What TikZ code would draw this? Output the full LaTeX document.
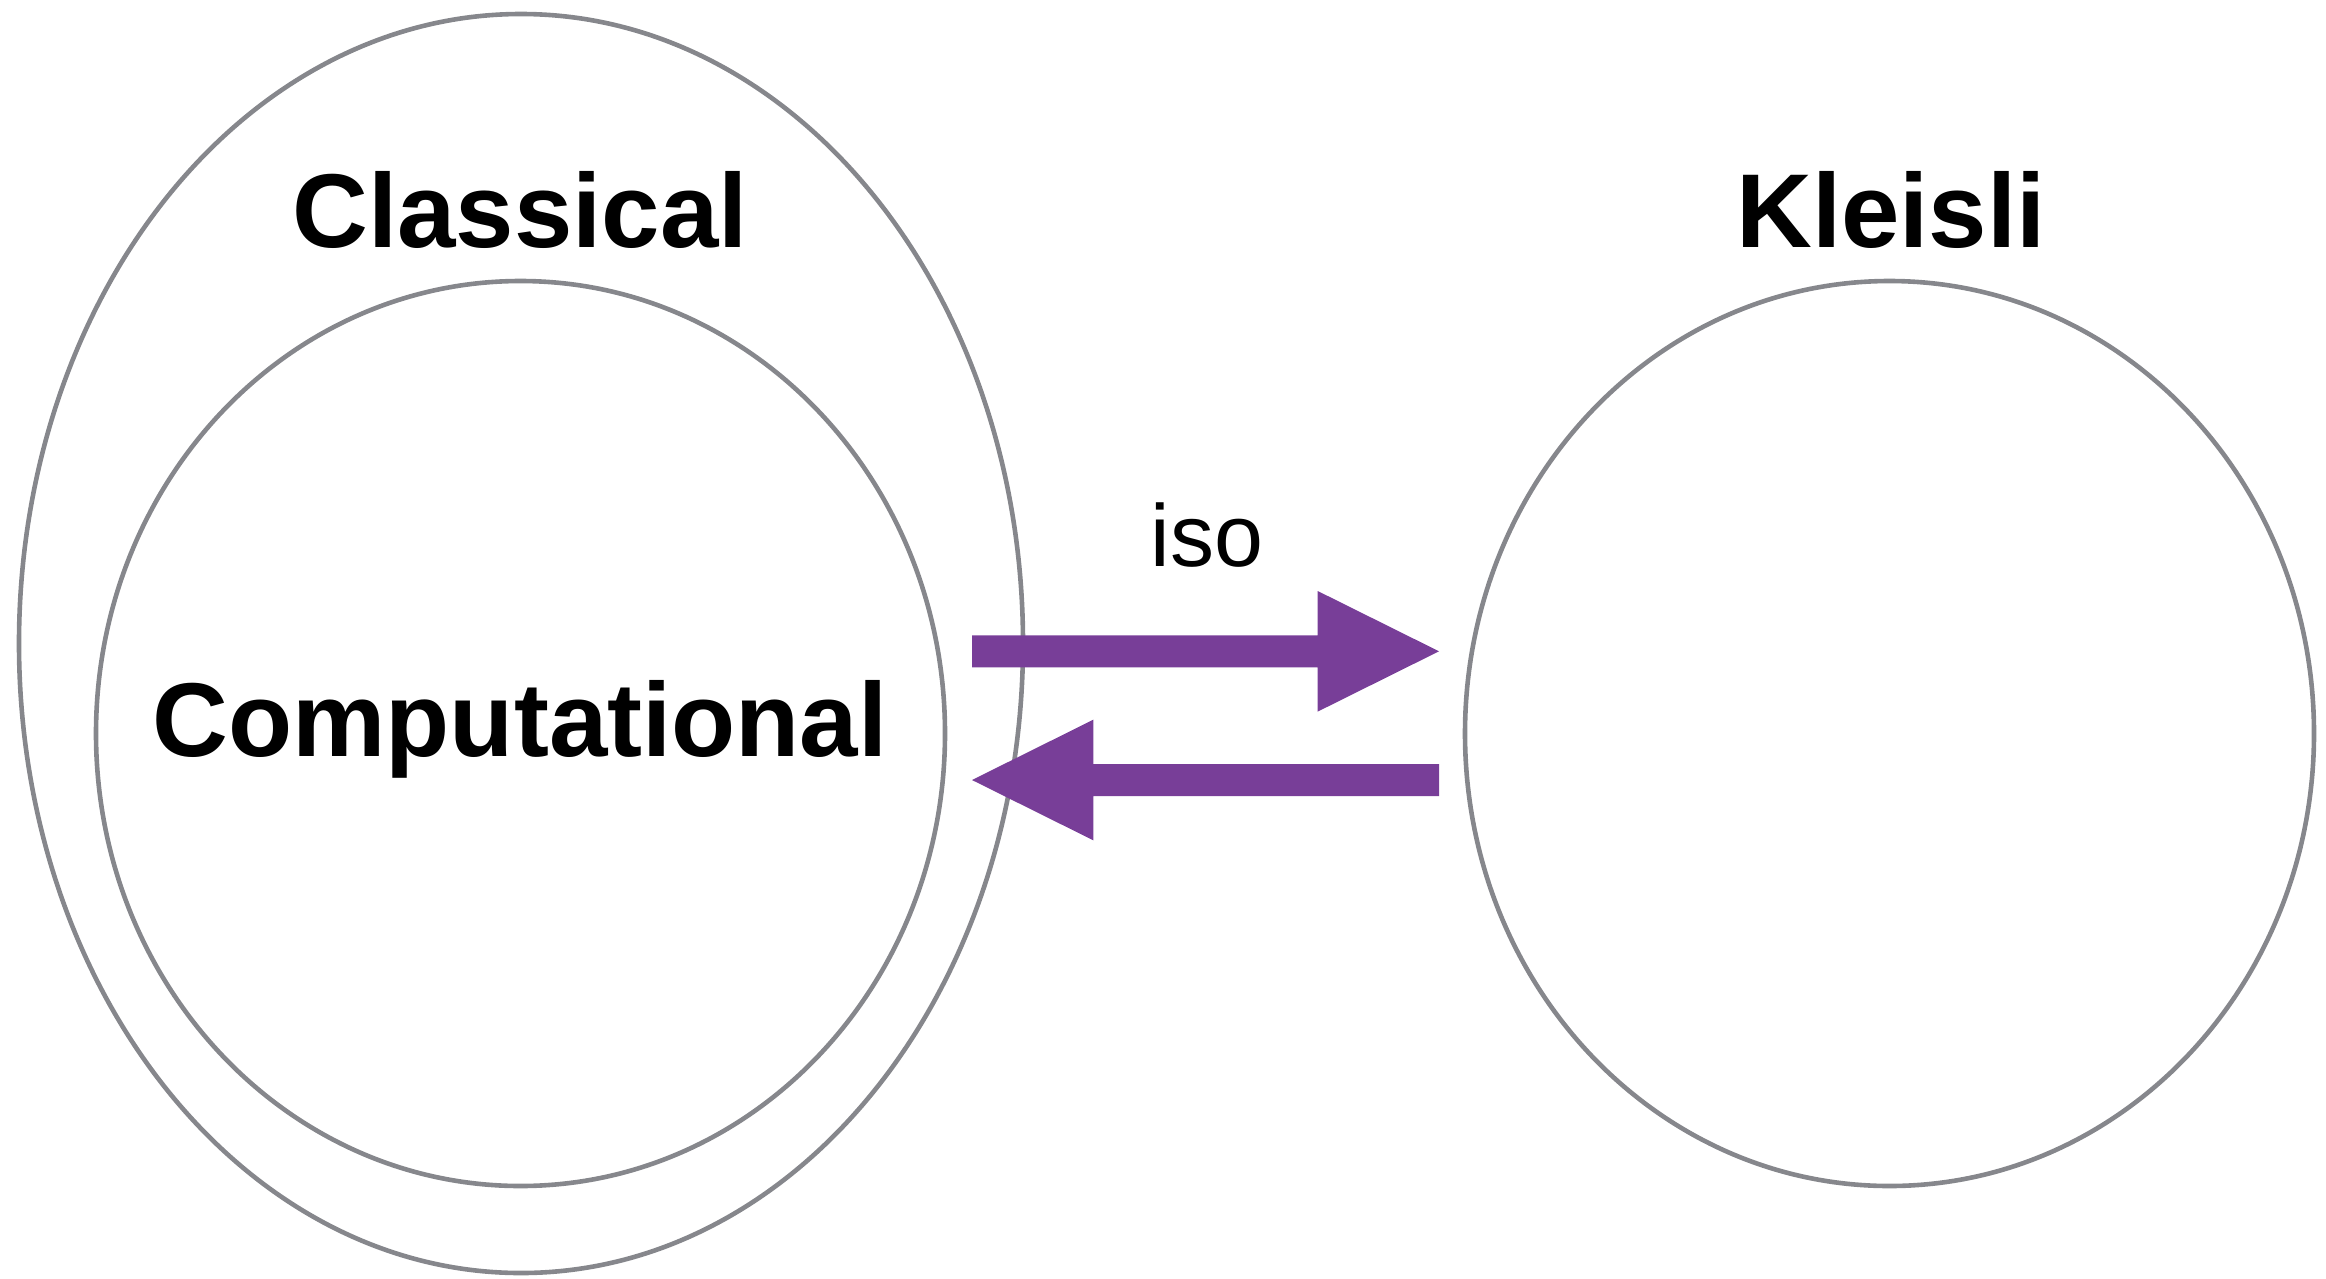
\documentclass[tikz,border=0pt]{standalone}
\usepackage{fontspec}
\setmainfont{Liberation Sans}
\usetikzlibrary{calc}
\definecolor{ringgrey}{RGB}{134,135,140}
\definecolor{isopurple}{RGB}{120,62,152}
\begin{document}
\begin{tikzpicture}[x=1pt,y=-1pt,
  ringline/.style={draw=ringgrey,line width=4.6pt},
  title/.style={anchor=base,inner sep=0pt,font=\fontsize{105}{120}\selectfont\bfseries},
  isolabel/.style={anchor=base,inner sep=0pt,font=\fontsize{88}{100}\selectfont},
  arrowfill/.style={fill=isopurple}]
\useasboundingbox (0,0) rectangle (2326,1278);
% ellipses
\coordinate (outer) at (521,643.5);
\coordinate (inner) at (520.5,733.5);
\coordinate (kleisli) at (1889.5,733.5);
\draw[ringline] (outer) ellipse [x radius=502, y radius=629.5];
\draw[ringline] (inner) ellipse [x radius=424.5, y radius=452.5];
\draw[ringline] (kleisli) ellipse [x radius=424.5, y radius=452.5];
% labels
\node[title] (classical) at (520,247.7) {Classical};
\node[title] (kleislilabel) at (1891,247.7) {Kleisli};
\node[title] (computational) at (520,756.5) {Computational};
\node[isolabel] (iso) at (1207,566) {iso};
% arrow endpoints
\coordinate (r1) at (972,651.3);
\coordinate (r2) at (1439,651.3);
\coordinate (l1) at (1439,780);
\coordinate (l2) at (972,780);
% right arrow
\fill[arrowfill] ($(r1)+(0,-16)$) -- ($(r2)+(-121.3,-16)$) -- ($(r2)+(-121.3,-60.3)$)
  -- (r2) -- ($(r2)+(-121.3,60.3)$) -- ($(r2)+(-121.3,16)$) -- ($(r1)+(0,16)$) -- cycle;
% left arrow
\fill[arrowfill] ($(l1)+(0,-16)$) -- ($(l2)+(121.3,-16)$) -- ($(l2)+(121.3,-60.3)$)
  -- (l2) -- ($(l2)+(121.3,60.3)$) -- ($(l2)+(121.3,16)$) -- ($(l1)+(0,16)$) -- cycle;
\end{tikzpicture}
\end{document}
